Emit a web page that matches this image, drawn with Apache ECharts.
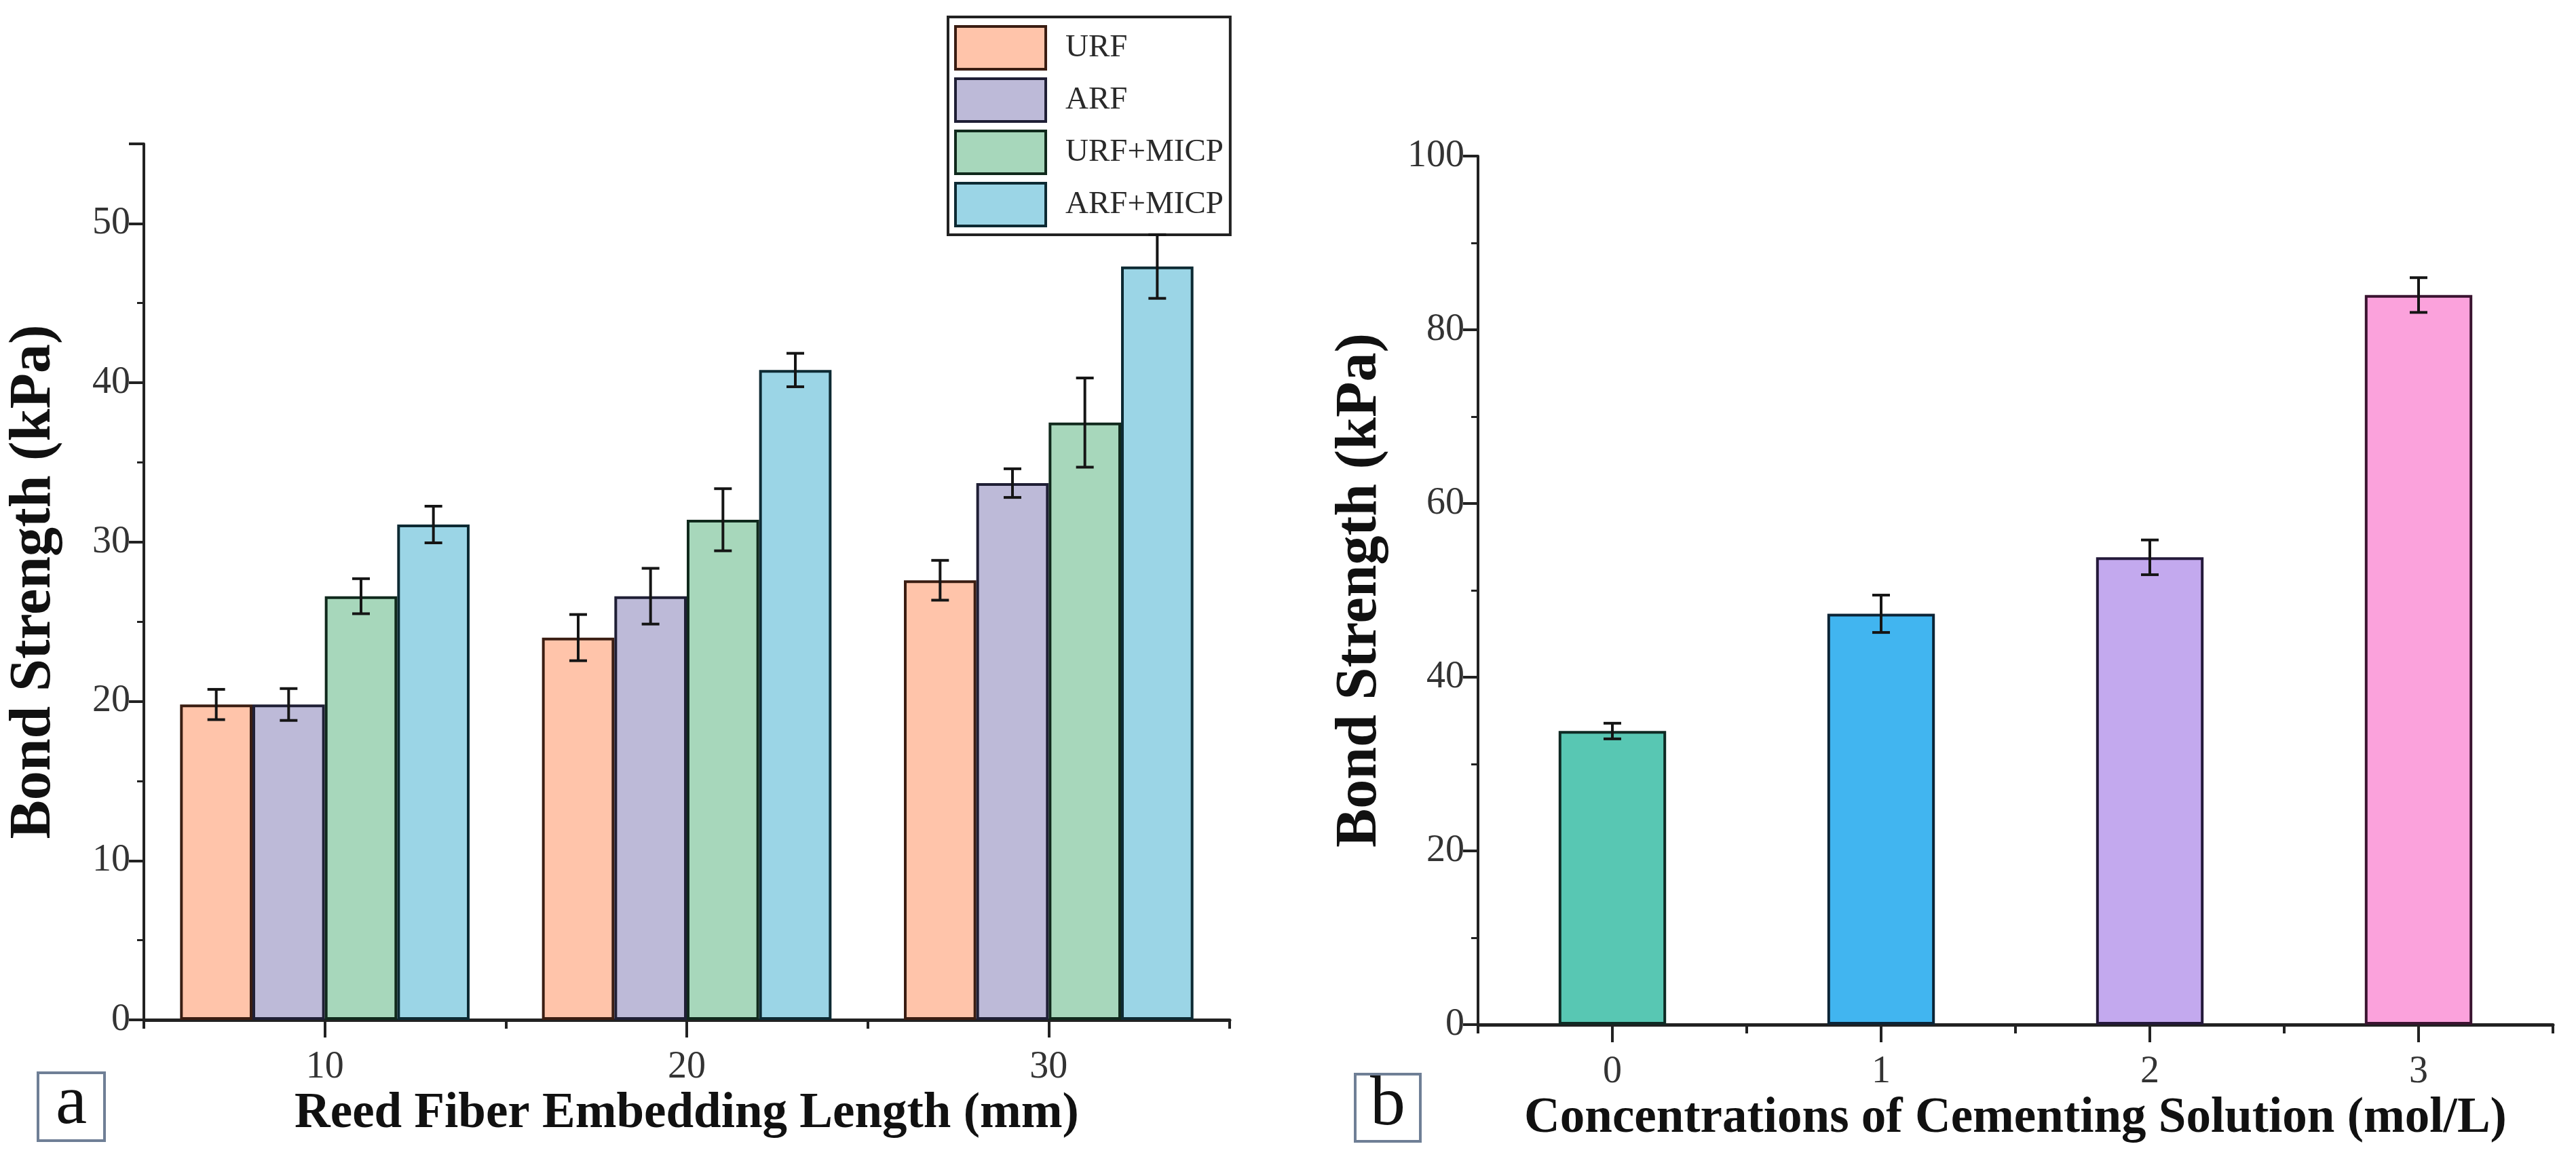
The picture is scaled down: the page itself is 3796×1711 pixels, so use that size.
<!DOCTYPE html>
<html>
<head>
<meta charset="utf-8">
<script src="https://cdn.jsdelivr.net/npm/echarts@6/dist/echarts.min.js"></script>
<style>
html,body{margin:0;padding:0;background:#fff;}
#chart{width:3796px;height:1711px;}
</style>
</head>
<body>
<div id="chart"></div>
<script>
// ---- Panel a data ----
const lengths = ['10', '20', '30'];
const seriesNames = ['URF', 'ARF', 'URF+MICP', 'ARF+MICP'];
const urf = [19.8, 24.0, 27.6];
const urfErr = [0.95, 1.45, 1.25];
const arf = [19.8, 26.6, 33.7];
const arfErr = [1.0, 1.75, 0.9];
const urfMicp = [26.6, 31.4, 37.5];
const urfMicpErr = [1.1, 1.95, 2.8];
const arfMicp = [31.1, 40.8, 47.3];
const arfMicpErr = [1.15, 1.05, 2.0];
const yTicksA = [0, 10, 20, 30, 40, 50];

// ---- Panel b data ----
const concentrations = ['0', '1', '2', '3'];
const cement = [33.8, 47.3, 53.8, 84.0];
const cementErr = [0.9, 2.15, 2.0, 2.0];
const yTicksB = [0, 20, 40, 60, 80, 100];

const FONT = 'Liberation Serif';
const fillA = ['#FFC4AA', '#BDBAD8', '#A7D7BB', '#9BD5E6'];
const edgeA = ['#3a1d12', '#1f1f35', '#10291c', '#0d2a33'];
const fillB = ['#58C7B3', '#41B5F0', '#C3A9EE', '#FBA2DC'];
const edgeB = ['#0f2a24', '#0c2436', '#24193a', '#3a1430'];

const valsA = [urf, arf, urfMicp, arfMicp];
const errsA = [urfErr, arfErr, urfMicpErr, arfMicpErr];

const chart = echarts.init(document.getElementById('chart'));

function errRender(k, nGroup, groupFrac) {
  return function (params, api) {
    const xi = api.value(0);
    const lo = api.coord([xi, api.value(1)]);
    const hi = api.coord([xi, api.value(2)]);
    const band = api.size([1, 0])[0];
    const bw = band * groupFrac / nGroup;
    const x = lo[0] + (k - (nGroup - 1) / 2) * bw;
    const cap = 13;
    const st = { stroke: '#151515', lineWidth: 4 };
    return {
      type: 'group',
      children: [
        { type: 'line', shape: { x1: x, y1: lo[1], x2: x, y2: hi[1] }, style: st },
        { type: 'line', shape: { x1: x - cap, y1: lo[1], x2: x + cap, y2: lo[1] }, style: st },
        { type: 'line', shape: { x1: x - cap, y1: hi[1], x2: x + cap, y2: hi[1] }, style: st }
      ]
    };
  };
}

function yAxisCfg(gridIndex, max, interval, nameGap) {
  return {
    type: 'value', gridIndex: gridIndex, min: 0, max: max, interval: interval,
    name: 'Bond Strength (kPa)', nameLocation: 'middle', nameGap: nameGap,
    nameTextStyle: { fontFamily: FONT, fontWeight: 'bold', fontSize: 86, color: '#111' },
    axisLine: { show: true, lineStyle: { color: '#222', width: 4 } },
    axisTick: { show: true, length: 22, lineStyle: { color: '#222', width: 4 } },
    minorTick: { show: true, splitNumber: 2, length: 10, lineStyle: { color: '#222', width: 3 } },
    splitLine: { show: false },
    axisLabel: { fontFamily: FONT, fontSize: 56, color: '#333', margin: 20, showMaxLabel: max % interval === 0 }
  };
}

function xAxisCfg(gridIndex, data, name, nameGap) {
  return {
    type: 'category', gridIndex: gridIndex, data: data, position: 'bottom',
    name: name, nameLocation: 'middle', nameGap: nameGap,
    nameTextStyle: { fontFamily: FONT, fontWeight: 'bold', fontSize: 73, color: '#111' },
    axisLine: { show: true, lineStyle: { color: '#222', width: 5 } },
    axisTick: { show: true, alignWithLabel: true, length: 26, lineStyle: { color: '#222', width: 4 } },
    axisLabel: { fontFamily: FONT, fontSize: 56, color: '#333', margin: 42 },
    splitLine: { show: false }
  };
}

function xAxisBoundary(gridIndex, data) {
  return {
    type: 'category', gridIndex: gridIndex, data: data, position: 'bottom',
    axisLine: { show: false },
    axisTick: { show: true, alignWithLabel: false, length: 13, lineStyle: { color: '#222', width: 4 } },
    axisLabel: { show: false },
    splitLine: { show: false }
  };
}

const series = [];
valsA.forEach(function (vals, k) {
  series.push({
    name: seriesNames[k], type: 'bar', xAxisIndex: 0, yAxisIndex: 0,
    data: vals, barGap: '0%', barCategoryGap: '20%',
    itemStyle: { color: fillA[k], borderColor: edgeA[k], borderWidth: 4 }
  });
});
valsA.forEach(function (vals, k) {
  series.push({
    name: seriesNames[k] + ' err', type: 'custom', xAxisIndex: 0, yAxisIndex: 0, z: 10,
    renderItem: errRender(k, 4, 0.8),
    data: vals.map(function (v, i) { return [i, v - errsA[k][i], v + errsA[k][i]]; })
  });
});
series.push({
  name: 'Cementing', type: 'bar', xAxisIndex: 2, yAxisIndex: 1,
  data: cement.map(function (v, i) {
    return { value: v, itemStyle: { color: fillB[i], borderColor: edgeB[i], borderWidth: 4 } };
  }),
  barWidth: '40%'
});
series.push({
  name: 'Cementing err', type: 'custom', xAxisIndex: 2, yAxisIndex: 1, z: 10,
  renderItem: errRender(0, 1, 0.4),
  data: cement.map(function (v, i) { return [i, v - cementErr[i], v + cementErr[i]]; })
});

const option = {
  backgroundColor: '#ffffff',
  animation: false,
  grid: [
    { left: 212, top: 212, width: 1600, height: 1291 },
    { left: 2178, top: 230, width: 1584, height: 1280 }
  ],
  xAxis: [
    xAxisCfg(0, lengths, 'Reed Fiber Embedding Length (mm)', 100),
    xAxisBoundary(0, lengths),
    xAxisCfg(1, concentrations, 'Concentrations of Cementing Solution (mol/L)', 100),
    xAxisBoundary(1, concentrations)
  ],
  yAxis: [
    yAxisCfg(0, 55, 10, 118),
    yAxisCfg(1, 100, 20, 130)
  ],
  legend: {
    data: seriesNames, orient: 'vertical', left: 1397, top: 25,
    itemWidth: 133, itemHeight: 63, itemGap: 10, icon: 'rect',
    padding: [12, 10, 11, 9],
    borderColor: '#222', borderWidth: 4, backgroundColor: '#fff',
    itemStyle: { borderWidth: 4 },
    textStyle: { fontFamily: FONT, fontSize: 47, color: '#2a2a2a', padding: [0, 0, 0, 24] }
  },
  graphic: [
    { type: 'rect', shape: { x: 56, y: 1581, width: 98, height: 100 },
      style: { fill: '#fff', stroke: '#6f7f96', lineWidth: 4 } },
    { type: 'text', x: 105, y: 1628,
      style: { text: 'a', font: '104px "Liberation Serif"', fill: '#111', textAlign: 'center', textVerticalAlign: 'middle' } },
    { type: 'rect', shape: { x: 1997, y: 1583, width: 96, height: 99 },
      style: { fill: '#fff', stroke: '#6f7f96', lineWidth: 4 } },
    { type: 'text', x: 2045, y: 1630,
      style: { text: 'b', font: '104px "Liberation Serif"', fill: '#111', textAlign: 'center', textVerticalAlign: 'middle' } }
  ],
  series: series
};
chart.setOption(option);
</script>
</body>
</html>
